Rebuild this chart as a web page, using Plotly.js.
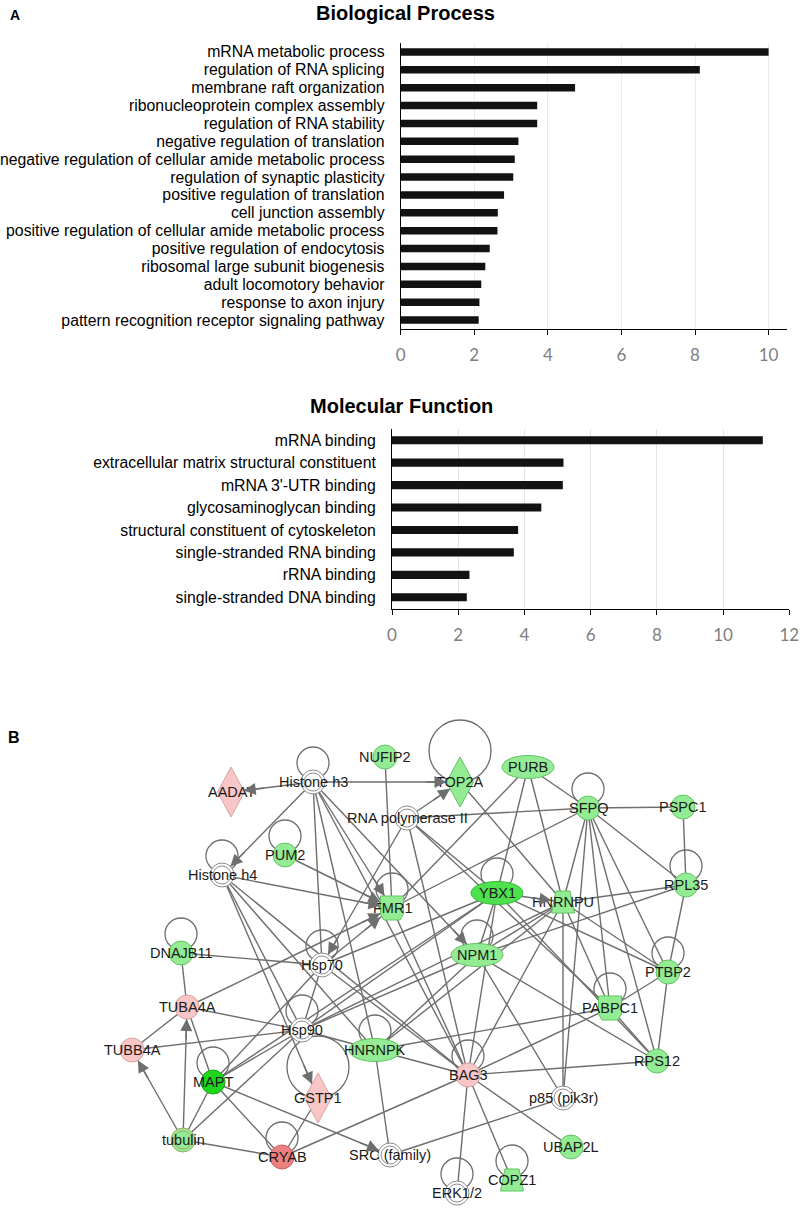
<!DOCTYPE html>
<html><head><meta charset="utf-8">
<script src="https://cdn.plot.ly/plotly-3.0.1.min.js"></script>
<style>html,body{margin:0;padding:0;background:#fff}#chart{width:800px;height:1208px}</style>
</head><body><div id="chart"></div>
<script>
// ---------- Panel A data ----------
const bpTerms = ["mRNA metabolic process","regulation of RNA splicing","membrane raft organization","ribonucleoprotein complex assembly","regulation of RNA stability","negative regulation of translation","negative regulation of cellular amide metabolic process","regulation of synaptic plasticity","positive regulation of translation","cell junction assembly","positive regulation of cellular amide metabolic process","positive regulation of endocytosis","ribosomal large subunit biogenesis","adult locomotory behavior","response to axon injury","pattern recognition receptor signaling pathway"];
const bpValues = [10.0,8.13,4.74,3.71,3.71,3.20,3.10,3.06,2.81,2.64,2.63,2.42,2.30,2.19,2.14,2.12];
const bpTicks = [0,2,4,6,8,10];
const mfTerms = ["mRNA binding","extracellular matrix structural constituent","mRNA 3'-UTR binding","glycosaminoglycan binding","structural constituent of cytoskeleton","single-stranded RNA binding","rRNA binding","single-stranded DNA binding"];
const mfValues = [11.2,5.18,5.16,4.51,3.81,3.68,2.34,2.26];
const mfTicks = [0,2,4,6,8,10,12];

// ---------- Panel B data (network) ----------
const nodeNames = ["AADAT","Histone h3","NUFIP2","TOP2A","PURB","SFPQ","PSPC1","RNA polymerase II","PUM2","Histone h4","FMR1","YBX1","HNRNPU","RPL35","DNAJB11","Hsp70","NPM1","PTBP2","TUBA4A","Hsp90","PABPC1","TUBB4A","HNRNPK","BAG3","RPS12","MAPT","GSTP1","p85 (pik3r)","tubulin","CRYAB","SRC (family)","UBAP2L","COPZ1","ERK1/2"];
const nodeX = [231,313,385,460,528,588,683,407,285,222,392,497,563,686,181,322,477,668,187,302,610,132,375,468,657,213,318,563,183,282,390,571,512,457];
const nodeY = [792,782,757,782,767,808,807,818,855,875,908,893,902,885,953,965,955,972,1007,1030,1008,1050,1050,1075,1061,1082,1098,1098,1140,1157,1155,1147,1180,1193];
const nodeKind = ["diamond","group","circle","diamond","ellipse","circle","circle","group","circle","group","square","ellipse","trapezoid","circle","circle","group","ellipse","circle","circle","group","square","circle","ellipse","circle","circle","circle","diamond","group","groupfill","circle","group","circle","trapezoid","group"];
const nodeReg = ["up","none","down","down","down","down","down","none","down","none","down","down2","down","down","down","none","down","down","up","none","down","up","down","up","down","down3","up","none","down","up2","none","down","down","none"];
const edgeList = [
 ["Histone h3","AADAT",1],["Histone h3","TOP2A",1],["Histone h3","Histone h4",1],["Histone h3","Hsp70",0],["Histone h3","HNRNPK",0],["Histone h3","BAG3",0],["Histone h3","NPM1",1],["Histone h3","FMR1",1],
 ["NUFIP2","FMR1",0],["RNA polymerase II","TOP2A",1],["RNA polymerase II","SFPQ",0],["RNA polymerase II","Hsp70",1],["RNA polymerase II","YBX1",0],["RNA polymerase II","BAG3",0],["RNA polymerase II","PABPC1",0],
 ["TOP2A","HNRNPU",0],["PURB","YBX1",0],["PURB","HNRNPU",0],["PURB","SFPQ",0],["PURB","FMR1",0],
 ["SFPQ","PSPC1",0],["SFPQ","FMR1",0],["SFPQ","HNRNPU",0],["SFPQ","RPL35",0],["SFPQ","PTBP2",0],["SFPQ","PABPC1",0],["SFPQ","p85 (pik3r)",0],["SFPQ","RPS12",0],["PSPC1","RPL35",0],
 ["PUM2","FMR1",1],["Histone h4","FMR1",1],["Histone h4","GSTP1",1],["Histone h4","Hsp90",0],["Histone h4","HNRNPK",0],["Histone h4","BAG3",0],
 ["YBX1","HNRNPU",1],["YBX1","NPM1",0],["YBX1","Hsp70",0],["YBX1","Hsp90",0],["YBX1","MAPT",0],["YBX1","BAG3",0],["YBX1","PTBP2",0],["YBX1","RPS12",0],
 ["HNRNPU","NPM1",0],["HNRNPU","RPL35",0],["HNRNPU","p85 (pik3r)",0],["HNRNPU","PABPC1",0],["HNRNPU","PTBP2",0],["HNRNPU","BAG3",0],["HNRNPU","HNRNPK",0],["HNRNPU","Hsp90",0],
 ["NPM1","RPL35",0],["NPM1","RPS12",0],["NPM1","p85 (pik3r)",0],["NPM1","Hsp90",0],["NPM1","HNRNPK",0],
 ["RPL35","PTBP2",0],["PTBP2","PABPC1",0],["PTBP2","RPS12",0],["PABPC1","RPS12",0],["PABPC1","BAG3",0],["PABPC1","HNRNPK",0],
 ["DNAJB11","Hsp70",0],["DNAJB11","TUBA4A",0],["TUBA4A","FMR1",1],["TUBA4A","TUBB4A",0],["TUBA4A","Hsp90",0],["TUBA4A","MAPT",0],["TUBB4A","Hsp90",0],
 ["tubulin","TUBB4A",1],["tubulin","TUBA4A",1],["tubulin","MAPT",0],["tubulin","Hsp90",0],["tubulin","CRYAB",0],
 ["MAPT","Hsp70",0],["MAPT","Hsp90",0],["MAPT","CRYAB",0],["MAPT","SRC (family)",1],["Hsp70","Hsp90",0],["Hsp70","BAG3",0],["Hsp70","FMR1",1],
 ["Hsp90","HNRNPK",0],["GSTP1","CRYAB",0],["CRYAB","BAG3",0],["HNRNPK","SRC (family)",0],["HNRNPK","BAG3",0],["SRC (family)","p85 (pik3r)",0],
 ["BAG3","RPS12",0],["BAG3","UBAP2L",0],["BAG3","COPZ1",0],["BAG3","ERK1/2",0],["FMR1","BAG3",0]
];
const selfLoopNodes = ["Histone h3","SFPQ","PUM2","Histone h4","FMR1","YBX1","RPL35","DNAJB11","Hsp70","NPM1","PTBP2","Hsp90","PABPC1","HNRNPK","BAG3","MAPT","CRYAB","COPZ1","ERK1/2"];
const bigLoopNodes = ["TOP2A","GSTP1"];

// ---------- styles ----------
const regFill = {none:"#ffffff",down:"#93eb93",down2:"#4ee14e",down3:"#1fd61f",up:"#f8c6c6",up2:"#ec8080"};
const regLine = {none:"#8c8c8c",down:"#62c462",down2:"#34b834",down3:"#17a817",up:"#d8a3a3",up2:"#c86464"};
const edgeColor = "#6e6e6e";
const idx = {}; nodeNames.forEach((n,i)=>idx[n]=i);

function boundary(i, ux, uy){
  const k = nodeKind[i], ax = Math.abs(ux), ay = Math.abs(uy);
  if (k==="ellipse") return 1/Math.sqrt((ux/26)**2+(uy/11.5)**2);
  if (k==="diamond") return 1/(ax/13.5+ay/25);
  if (k==="square"||k==="trapezoid") return Math.min(ax>1e-6?11.5/ax:99, ay>1e-6?12/ay:99);
  return 12;
}

const ex=[], ey=[];
edgeList.forEach(e=>{const a=idx[e[0]], b=idx[e[1]]; ex.push(nodeX[a],nodeX[b],null); ey.push(nodeY[a],nodeY[b],null);});

const shapes = [];
const annotations = [];
selfLoopNodes.forEach(n=>{const i=idx[n]; const cx=nodeX[i], cy=nodeY[i]-19, r=16;
  shapes.push({type:"circle",xref:"x3",yref:"y3",x0:cx-r,x1:cx+r,y0:cy-r,y1:cy+r,line:{color:edgeColor,width:1.3},fillcolor:"rgba(0,0,0,0)",layer:"below"});});
bigLoopNodes.forEach(n=>{const i=idx[n]; const cx=nodeX[i], cy=nodeY[i]-31, r=31;
  shapes.push({type:"circle",xref:"x3",yref:"y3",x0:cx-r,x1:cx+r,y0:cy-r,y1:cy+r,line:{color:edgeColor,width:1.3},fillcolor:"rgba(0,0,0,0)",layer:"below"});});

nodeNames.forEach((n,i)=>{
  const x=nodeX[i], y=nodeY[i], k=nodeKind[i];
  const fill=regFill[nodeReg[i]], lc=regLine[nodeReg[i]];
  const base={xref:"x3",yref:"y3",layer:"above",fillcolor:fill,line:{color:lc,width:1}};
  if (k==="circle") shapes.push(Object.assign({type:"circle",x0:x-12,x1:x+12,y0:y-12,y1:y+12},base));
  else if (k==="ellipse") shapes.push(Object.assign({type:"circle",x0:x-26,x1:x+26,y0:y-11.5,y1:y+11.5},base));
  else if (k==="diamond") shapes.push(Object.assign({type:"path",path:`M ${x},${y-25} L ${x+13.5},${y} L ${x},${y+25} L ${x-13.5},${y} Z`},base));
  else if (k==="trapezoid") shapes.push(Object.assign({type:"path",path:`M ${x-7},${y-11} L ${x+7},${y-11} L ${x+11.5},${y+11} L ${x-11.5},${y+11} Z`},base));
  else if (k==="square") shapes.push(Object.assign({type:"path",path:`M ${x-11.5},${y-12} L ${x+11.5},${y-12} L ${x+11.5},${y+6} L ${x+8},${y+12} L ${x-8},${y+12} L ${x-11.5},${y+6} Z`},base));
  else {
    const ring = k==="groupfill" ? "#a4a86a" : "#8c8c8c";
    shapes.push({type:"circle",xref:"x3",yref:"y3",layer:"above",x0:x-12,x1:x+12,y0:y-12,y1:y+12,fillcolor:fill,line:{color:ring,width:1}});
    shapes.push({type:"circle",xref:"x3",yref:"y3",layer:"above",x0:x-9,x1:x+9,y0:y-9,y1:y+9,fillcolor:fill,line:{color:ring,width:1}});
  }
  annotations.push({xref:"x3",yref:"y3",x:x,y:y,text:n,showarrow:false,font:{family:"Liberation Sans, Arial, sans-serif",size:14.5,color:"#1a1a1a"},xanchor:"center",yanchor:"middle"});
});

edgeList.forEach(e=>{ if(!e[2]) return; const a=idx[e[0]], b=idx[e[1]];
  const dx=nodeX[b]-nodeX[a], dy=nodeY[b]-nodeY[a], L=Math.hypot(dx,dy), ux=dx/L, uy=dy/L;
  const r=boundary(b,ux,uy);
  annotations.push({xref:"x3",yref:"y3",axref:"x3",ayref:"y3",x:nodeX[b],y:nodeY[b],ax:nodeX[b]-ux*(r+22),ay:nodeY[b]-uy*(r+22),text:"",showarrow:true,arrowhead:2,arrowsize:1.6,arrowwidth:1.5,arrowcolor:edgeColor,standoff:r});
});

const H=1208;
const py = p => 1 - p/H;
annotations.push({xref:"paper",yref:"paper",x:406/800,y:py(13),text:"<b>Biological Process</b>",showarrow:false,font:{family:"Liberation Sans, Arial, sans-serif",size:20,color:"#000"},xanchor:"center",yanchor:"middle"});
annotations.push({xref:"paper",yref:"paper",x:402/800,y:py(406),text:"<b>Molecular Function</b>",showarrow:false,font:{family:"Liberation Sans, Arial, sans-serif",size:20,color:"#000"},xanchor:"center",yanchor:"middle"});
annotations.push({xref:"paper",yref:"paper",x:15/800,y:py(15),text:"<b>A</b>",showarrow:false,font:{family:"Liberation Sans, Arial, sans-serif",size:14,color:"#000"},xanchor:"center",yanchor:"middle"});
annotations.push({xref:"paper",yref:"paper",x:14/800,y:py(737),text:"<b>B</b>",showarrow:false,font:{family:"Liberation Sans, Arial, sans-serif",size:16,color:"#000"},xanchor:"center",yanchor:"middle"});

const catFont = {family:"Liberation Sans, Arial, sans-serif",size:15.8,color:"#000"};
const numFont = {family:"Lato, Open Sans, sans-serif",size:17,color:"#808080"};

const traces = [
  {type:"bar",orientation:"h",x:bpValues,y:bpTerms,xaxis:"x",yaxis:"y",marker:{color:"#121212"},width:0.42,hoverinfo:"skip"},
  {type:"bar",orientation:"h",x:mfValues,y:mfTerms,xaxis:"x2",yaxis:"y2",marker:{color:"#121212"},width:0.36,hoverinfo:"skip"},
  {type:"scatter",mode:"lines",x:ex,y:ey,xaxis:"x3",yaxis:"y3",line:{color:edgeColor,width:1.4},hoverinfo:"skip",connectgaps:false}
];

const layout = {
  width:800,height:1208,margin:{l:0,r:0,t:0,b:0,pad:0},paper_bgcolor:"#fff",plot_bgcolor:"rgba(0,0,0,0)",showlegend:false,
  xaxis:{domain:[400.7/800,787/800],range:[0,10.5],tickvals:bpTicks,ticks:"outside",ticklen:5,tickcolor:"#000",showline:true,linecolor:"#000",linewidth:1,showgrid:true,gridcolor:"#ececec",zeroline:false,tickfont:numFont,anchor:"y",ticklabelstandoff:6,fixedrange:true},
  yaxis:{domain:[py(329),py(43)],type:"category",categoryarray:bpTerms,tickmode:"array",tickvals:bpTerms,ticktext:bpTerms,range:[bpTerms.length-0.5,-0.5],showline:true,linecolor:"#000",linewidth:1,ticks:"",showgrid:false,tickfont:catFont,anchor:"x",ticklabelstandoff:12,fixedrange:true},
  xaxis2:{domain:[392/800,789.3/800],range:[0,12],tickvals:mfTicks,ticks:"outside",ticklen:5,tickcolor:"#000",showline:true,linecolor:"#000",linewidth:1,showgrid:true,gridcolor:"#e4e4e4",zeroline:false,tickfont:numFont,anchor:"y2",ticklabelstandoff:6,fixedrange:true},
  yaxis2:{domain:[py(608.5),py(429)],type:"category",categoryarray:mfTerms,tickmode:"array",tickvals:mfTerms,ticktext:mfTerms,range:[mfTerms.length-0.5,-0.5],showline:true,linecolor:"#000",linewidth:1,ticks:"",showgrid:false,tickfont:catFont,anchor:"x2",ticklabelstandoff:12,fixedrange:true},
  xaxis3:{domain:[0,1],range:[0,800],visible:false,anchor:"y3",fixedrange:true},
  yaxis3:{domain:[0,py(690)],range:[1208,690],visible:false,anchor:"x3",fixedrange:true},
  shapes:shapes,annotations:annotations,bargap:0.5
};
Plotly.newPlot("chart",traces,layout,{staticPlot:true,displayModeBar:false});
</script></body></html>
